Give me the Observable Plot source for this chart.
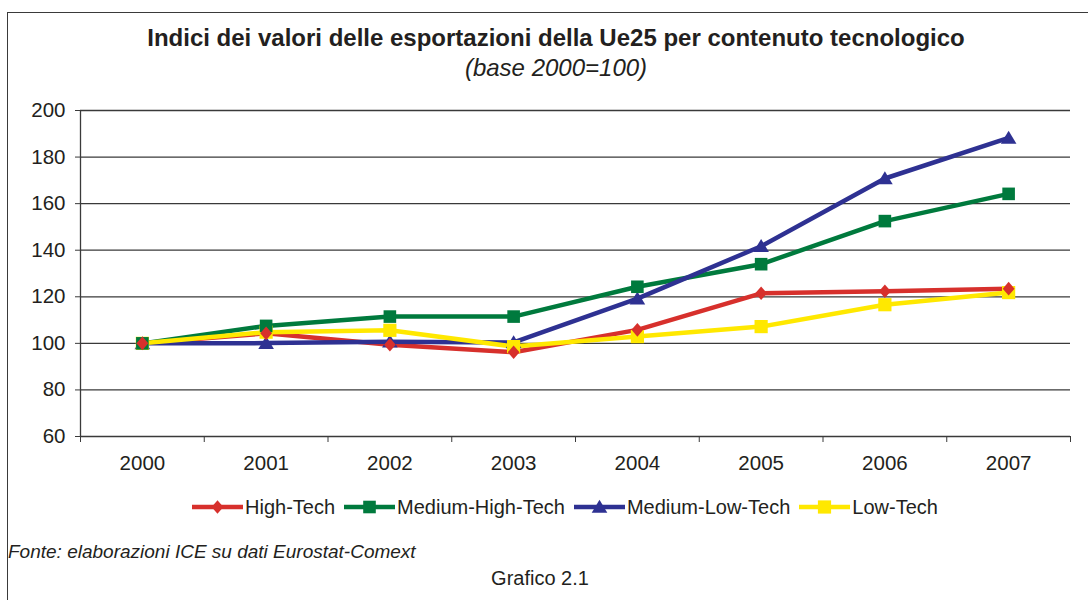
<!DOCTYPE html>
<html><head><meta charset="utf-8">
<script src="https://cdn.jsdelivr.net/npm/d3@7"></script>
<script src="https://cdn.jsdelivr.net/npm/@observablehq/plot@0.6"></script>
<style>
body{margin:0;background:#fff;font-family:"Liberation Sans",Arial,sans-serif;color:#231f20}
#wrap{position:relative;width:1088px;height:600px;overflow:hidden;background:#fff}
#frame{position:absolute;left:7px;top:12px;width:1200px;height:700px;border:1.5px solid #3a3a3a;box-sizing:border-box}
.t{position:absolute;white-space:nowrap;line-height:1}
#chart{position:absolute;left:0;top:0}
#legend{position:absolute;left:192px;top:497px;height:20px;display:flex;align-items:center;gap:9px;font-size:20px;line-height:20px}
.li{display:flex;align-items:center;gap:2px}
.li svg{display:block}
</style></head><body>
<div id="wrap">
<div id="frame"></div>
<div class="t" style="left:0;width:1112px;text-align:center;top:25.5px;font-weight:bold;font-size:24px">Indici dei valori delle esportazioni della Ue25 per contenuto tecnologico</div>
<div class="t" style="left:0;width:1112px;text-align:center;top:55.5px;font-style:italic;font-size:24px">(base 2000=100)</div>
<div id="chart"></div>
<div id="legend"></div>
<div class="t" style="left:8px;top:542px;font-style:italic;font-size:19px">Fonte: elaborazioni ICE su dati Eurostat-Comext</div>
<div class="t" style="left:0;width:1080px;text-align:center;top:568px;font-size:20px">Grafico 2.1</div>
</div>
<script>
const years = [2000, 2001, 2002, 2003, 2004, 2005, 2006, 2007];
const seriesNames = ["High-Tech", "Medium-High-Tech", "Medium-Low-Tech", "Low-Tech"];
const highTech   = [100, 104.3, 99.4, 96.2, 105.8, 121.5, 122.4, 123.5];
const mediumHigh = [100, 107.5, 111.5, 111.5, 124.3, 134.0, 152.5, 164.2];
const mediumLow  = [100, 100.1, 100.7, 100.4, 119.2, 141.7, 170.8, 188.2];
const lowTech    = [100, 104.8, 105.6, 98.6, 102.9, 107.2, 116.6, 121.8];
const yTicks = [60, 80, 100, 120, 140, 160, 180, 200];
const colors = ["#d7302c", "#007a3d", "#2e3192", "#ffe800"];

const seriesValues = [highTech, mediumHigh, mediumLow, lowTech];
const data = [];
seriesNames.forEach((s, i) => years.forEach((y, j) => data.push({series: s, year: y, value: seriesValues[i][j]})));
const boundaries = d3.range(years[0] - 0.5, years[years.length - 1] + 1, 1);

const diamond = {draw(c, size){ const r = Math.sqrt(size/Math.PI); c.moveTo(0,-r*1.1); c.lineTo(r*0.95,0); c.lineTo(0,r*1.1); c.lineTo(-r*0.95,0); c.closePath(); }};
const square = {draw(c, size){ const r = Math.sqrt(size/Math.PI); c.rect(-r,-r,2*r,2*r); }};
const triangle = {draw(c, size){ const r = Math.sqrt(size/Math.PI); c.moveTo(0,-r*1.05); c.lineTo(r*1.15,r*0.85); c.lineTo(-r*1.15,r*0.85); c.closePath(); }};
const symbols = [diamond, square, triangle, square];
const radii = [6.2, 6.3, 6.8, 6.6];

const axisColor = "#3a3a3a";
const plot = Plot.plot({
  width: 1088, height: 480,
  marginTop: 110, marginBottom: 44, marginLeft: 80, marginRight: 18,
  x: {domain: [years[0] - 0.5, years[years.length - 1] + 0.5]},
  y: {domain: [60, 200]},
  r: {type: "identity"},
  color: {domain: seriesNames, range: colors},
  symbol: {domain: seriesNames, range: symbols},
  style: {fontFamily: "'Liberation Sans', Arial, sans-serif", fontSize: "20.5px", color: "#231f20", background: "transparent"},
  marks: [
    Plot.ruleY(yTicks.filter(d => d > 60), {stroke: axisColor, strokeWidth: 1.3}),
    Plot.axisY({ticks: yTicks, tickSize: 5, tickPadding: 10, label: null, stroke: axisColor, fontSize: 20.5}),
    Plot.axisX({ticks: boundaries, tickSize: 6, tickFormat: () => "", label: null, stroke: axisColor}),
    Plot.axisX({ticks: years, tickSize: 0, tickPadding: 18.5, tickFormat: d => String(d), label: null, fontSize: 20.5}),
    Plot.ruleX([years[0] - 0.5], {stroke: axisColor, strokeWidth: 1.3}),
    Plot.ruleY([60], {stroke: axisColor, strokeWidth: 1.3}),
    Plot.line(data, {x: "year", y: "value", z: "series", stroke: "series", strokeWidth: 4.5, strokeLinejoin: "round"}),
    Plot.dot(data, {x: "year", y: "value", symbol: "series", fill: "series", r: d => radii[seriesNames.indexOf(d.series)], stroke: "none"})
  ]
});
document.getElementById("chart").appendChild(plot);

// legend
const leg = d3.select("#legend");
seriesNames.forEach((s, i) => {
  const item = leg.append("div").attr("class", "li");
  const svg = item.append("svg").attr("width", 51).attr("height", 20);
  svg.append("line").attr("x1", 0).attr("x2", 51).attr("y1", 10).attr("y2", 10).attr("stroke", colors[i]).attr("stroke-width", 4.5);
  svg.append("path").attr("transform", "translate(25.5,10)").attr("fill", colors[i])
    .attr("d", d3.symbol(symbols[i], Math.PI * radii[i] * radii[i])());
  item.append("span").text(s);
});
</script>
</body></html>
